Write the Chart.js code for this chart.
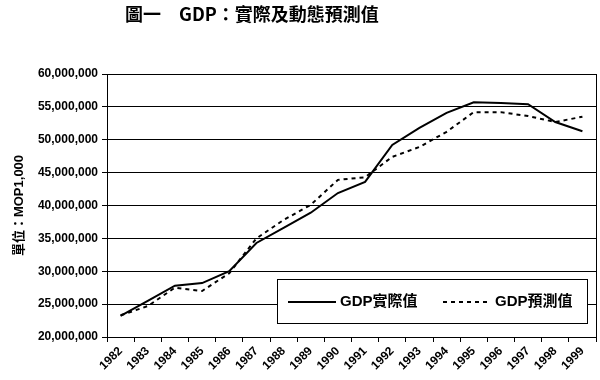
<!DOCTYPE html>
<html><head><meta charset="utf-8">
<script src="https://cdn.jsdelivr.net/npm/chart.js@4.4.1/dist/chart.umd.min.js"></script>
<style>html,body{margin:0;padding:0;background:#fff}#wrap{width:600px;height:380px;position:relative}</style>
</head><body><div id="wrap"><canvas id="c" width="600" height="380"></canvas></div>
<script>
// ---- data ----
const years = ['1982','1983','1984','1985','1986','1987','1988','1989','1990','1991','1992','1993','1994','1995','1996','1997','1998','1999'];
const gdpActual = [23200000,25500000,27800000,28200000,30000000,34300000,36600000,38900000,41900000,43600000,49200000,51800000,54100000,55700000,55600000,55400000,52700000,51300000];
const gdpForecast = [23300000,24700000,27500000,27000000,29700000,35000000,37800000,40100000,43900000,44300000,47400000,48900000,51200000,54200000,54200000,53600000,52700000,53500000];
const seriesNames = ['GDP實際值','GDP預測值'];
const yMin = 20000000, yMax = 60000000, yStep = 5000000;
const titleText = '圖一　GDP：實際及動態預測值';
const yTitleText = '單位：MOP1,000';

const FONT = '"Liberation Sans","Noto Sans CJK TC",Arial,sans-serif';

const titlePlugin = {
  id: 'titleDraw',
  afterDraw(chart) {
    const ctx = chart.ctx;
    ctx.save();
    ctx.fillStyle = '#000';
    ctx.font = 'bold 18px "Noto Sans CJK TC","Noto Sans CJK SC",serif';
    ctx.textBaseline = 'middle';
    ctx.textAlign = 'left';
    ctx.fillText(titleText, 125, 14);
    ctx.restore();
  }
};

const framePlugin = {
  id: 'frame',
  afterDatasetsDraw(chart) {
    const {ctx, chartArea: a} = chart;
    ctx.save();
    ctx.strokeStyle = '#000';
    ctx.lineWidth = 1;
    ctx.beginPath();
    ctx.moveTo(a.right + 0.5, a.top);
    ctx.lineTo(a.right + 0.5, a.bottom);
    ctx.stroke();
    ctx.restore();
  }
};

const legendPlugin = {
  id: 'boxLegend',
  afterDraw(chart) {
    const ctx = chart.ctx;
    const bx = 277, by = 279, bw = 310, bh = 44;
    ctx.save();
    ctx.fillStyle = '#fff';
    ctx.fillRect(bx, by, bw, bh);
    ctx.strokeStyle = '#000';
    ctx.lineWidth = 1;
    ctx.strokeRect(bx + 0.5, by + 0.5, bw, bh);
    const cy = by + bh / 2 + 1;
    ctx.font = 'bold 15px ' + FONT;
    ctx.textBaseline = 'middle';
    ctx.fillStyle = '#000';
    const items = chart.data.datasets;
    const starts = [288, 443];
    items.forEach((ds, i) => {
      const x0 = starts[i];
      ctx.beginPath();
      ctx.lineWidth = 2;
      ctx.setLineDash(ds.borderDash || []);
      ctx.moveTo(x0, cy);
      ctx.lineTo(x0 + 48, cy);
      ctx.stroke();
      ctx.setLineDash([]);
      ctx.fillText(ds.label, x0 + 52, cy);
    });
    ctx.restore();
  }
};

new Chart(document.getElementById('c'), {
  type: 'line',
  data: {
    labels: years,
    datasets: [
      { label: seriesNames[0], data: gdpActual, borderColor: '#000', borderWidth: 2, pointRadius: 0, tension: 0, fill: false },
      { label: seriesNames[1], data: gdpForecast, borderColor: '#000', borderWidth: 2, borderDash: [4,4], pointRadius: 0, tension: 0, fill: false }
    ]
  },
  options: {
    responsive: false,
    animation: false,
    layout: { padding: { top: 74, right: 4, bottom: 0, left: 0 } },
    plugins: { legend: { display: false }, title: { display: false }, tooltip: { enabled: false } },
    scales: {
      x: {
        offset: true,
        grid: { display: true, drawOnChartArea: false, drawTicks: true, tickLength: 5, offset: true, color: '#000' },
        border: { display: true, color: '#000', width: 1 },
        ticks: { autoSkip: false, minRotation: 45, maxRotation: 45, color: '#000', font: { family: FONT, size: 12, weight: 'bold' }, padding: 2 },
        afterFit(s) { s.height = 43; }
      },
      y: {
        min: yMin, max: yMax,
        ticks: { stepSize: yStep, color: '#000', padding: 4, font: { family: FONT, size: 12, weight: 'bold' },
          callback: v => Number(v).toLocaleString('en-US') },
        grid: { color: '#000', lineWidth: 1, tickLength: 5, drawTicks: true },
        border: { display: true, color: '#000', width: 1 },
        title: { display: true, text: yTitleText, color: '#000', font: { family: FONT, size: 13, weight: 'bold' }, padding: { top: 12, bottom: 0 } },
        afterFit(s) { s.width = 107; }
      }
    }
  },
  plugins: [framePlugin, legendPlugin, titlePlugin]
});
</script></body></html>
